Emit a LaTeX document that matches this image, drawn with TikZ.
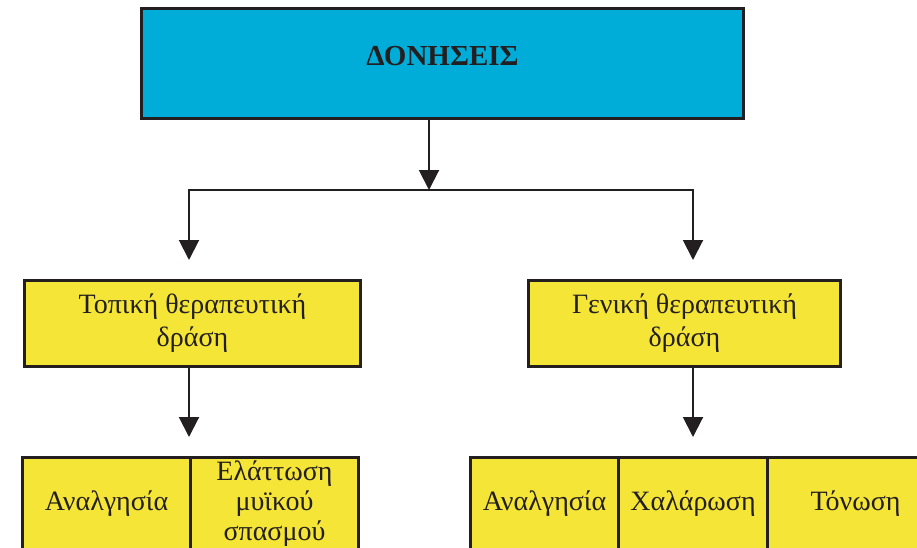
\documentclass[tikz,border=0pt]{standalone}
\usepackage{fontspec}
\setmainfont{Liberation Serif}
\usetikzlibrary{arrows.meta}
\definecolor{cyanbox}{RGB}{0,173,216}
\definecolor{yellowbox}{RGB}{245,229,55}
\definecolor{ink}{RGB}{35,31,32}
\begin{document}
\begin{tikzpicture}[x=1pt,y=-1pt,
  box/.style={draw=ink, line width=3pt, fill=yellowbox, inner sep=0pt, anchor=north west,
    align=center, text=ink, font=\fontsize{28}{33}\selectfont},
  cell/.style={box, font=\fontsize{28}{30}\selectfont, minimum height=92pt},
  conn/.style={draw=ink, line width=2pt},
  arr/.style={conn, -{Triangle[width=20pt,length=20pt]}}]
\useasboundingbox (0,0) rectangle (917,547);
\clip (0,0) rectangle (917,547);
% boxes
\node[box, fill=cyanbox, minimum width=602pt, minimum height=110pt, text depth=15pt,
  font=\bfseries\fontsize{29}{32}\selectfont] (top) at (140,7) {ΔΟΝΗΣΕΙΣ};
\node[box, minimum width=336pt, minimum height=86pt] (ml) at (23,279) {Τοπική θεραπευτική\\δράση};
\node[box, minimum width=312pt, minimum height=86pt] (mr) at (527,279) {Γενική θεραπευτική\\δράση};
\node[cell, minimum width=168pt] (b1) at (21,456) {Αναλγησία};
\node[cell, minimum width=168pt] (b2) at (189,456) {Ελάττωση\\μυϊκού\\σπασμού};
\node[cell, minimum width=148pt] (b3) at (469,456) {Αναλγησία};
\node[cell, minimum width=149pt] (b4) at (617,456) {Χαλάρωση};
\node[cell, minimum width=176pt] (b5) at (766,456) {Τόνωση};
% connectors
\coordinate (j) at (429,190);
\coordinate (jl) at (189,190);
\coordinate (jr) at (693,190);
\coordinate (tl) at (189,260);
\coordinate (tr) at (693,260);
\coordinate (bl) at (189,437);
\coordinate (br) at (693,437);
\draw[arr] (top.south -| j) -- (j);
\draw[arr] (jr) -- (jl) -- (tl);
\draw[arr] (jl) -- (jr) -- (tr);
\draw[arr] (ml.south -| bl) -- (bl);
\draw[arr] (mr.south -| br) -- (br);
\end{tikzpicture}
\end{document}
